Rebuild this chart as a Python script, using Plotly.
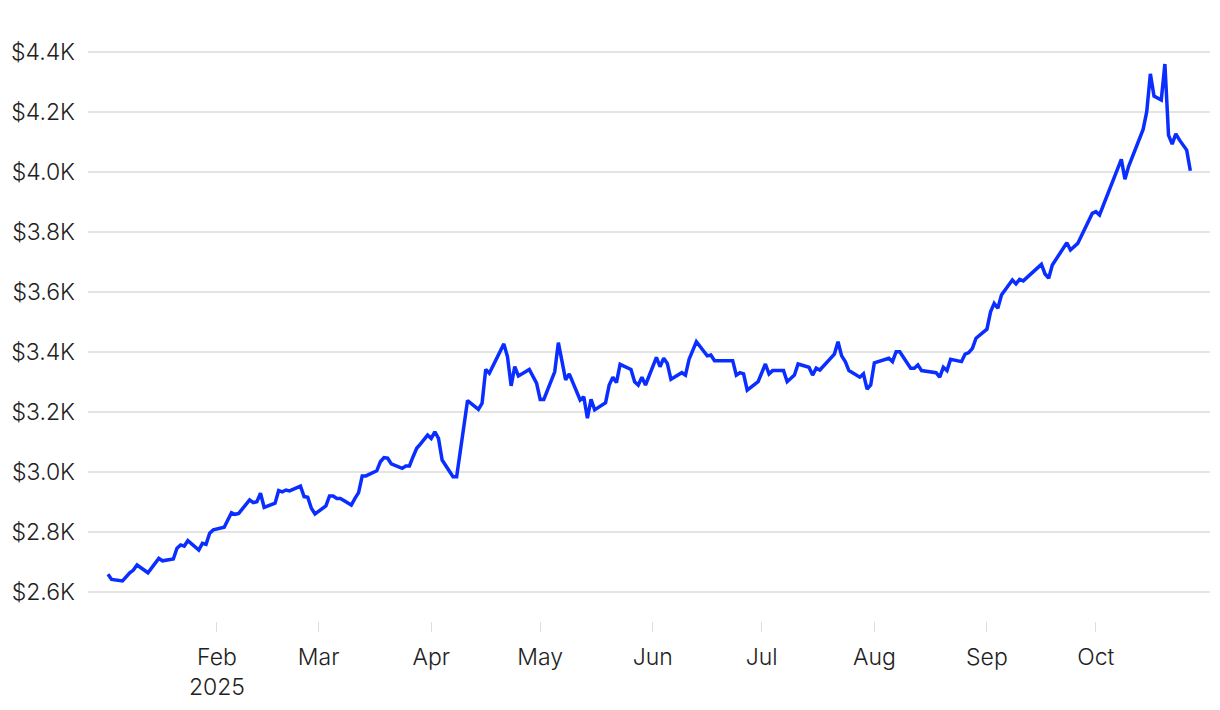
import plotly.graph_objects as go

dates = [
    "2025-01-02", "2025-01-03", "2025-01-06", "2025-01-08", "2025-01-09", "2025-01-10",
    "2025-01-13", "2025-01-16", "2025-01-17", "2025-01-20", "2025-01-21", "2025-01-22",
    "2025-01-23", "2025-01-24", "2025-01-27", "2025-01-28", "2025-01-29", "2025-01-30",
    "2025-01-31", "2025-02-03", "2025-02-05", "2025-02-06", "2025-02-07", "2025-02-10",
    "2025-02-11", "2025-02-12", "2025-02-13", "2025-02-14", "2025-02-17", "2025-02-18",
    "2025-02-19", "2025-02-20", "2025-02-21", "2025-02-24", "2025-02-25", "2025-02-26",
    "2025-02-27", "2025-02-28", "2025-03-03", "2025-03-04", "2025-03-05", "2025-03-06",
    "2025-03-07", "2025-03-10", "2025-03-11", "2025-03-12", "2025-03-13", "2025-03-14",
    "2025-03-17", "2025-03-18", "2025-03-19", "2025-03-20", "2025-03-21", "2025-03-24",
    "2025-03-25", "2025-03-26", "2025-03-27", "2025-03-28", "2025-03-29", "2025-03-31",
    "2025-04-01", "2025-04-02", "2025-04-03", "2025-04-04", "2025-04-07", "2025-04-08",
    "2025-04-11", "2025-04-14", "2025-04-15", "2025-04-16", "2025-04-17", "2025-04-21",
    "2025-04-22", "2025-04-23", "2025-04-24", "2025-04-25", "2025-04-28", "2025-04-30",
    "2025-05-01", "2025-05-02", "2025-05-05", "2025-05-06", "2025-05-08", "2025-05-09",
    "2025-05-12", "2025-05-13", "2025-05-14", "2025-05-15", "2025-05-16", "2025-05-19",
    "2025-05-20", "2025-05-21", "2025-05-22", "2025-05-23", "2025-05-26", "2025-05-27",
    "2025-05-28", "2025-05-29", "2025-05-30", "2025-06-02", "2025-06-03", "2025-06-04",
    "2025-06-05", "2025-06-06", "2025-06-09", "2025-06-10", "2025-06-11", "2025-06-13",
    "2025-06-16", "2025-06-17", "2025-06-18", "2025-06-23", "2025-06-24", "2025-06-25",
    "2025-06-26", "2025-06-27", "2025-06-30", "2025-07-02", "2025-07-03", "2025-07-04",
    "2025-07-07", "2025-07-08", "2025-07-10", "2025-07-11", "2025-07-14", "2025-07-15",
    "2025-07-16", "2025-07-17", "2025-07-21", "2025-07-22", "2025-07-23", "2025-07-24",
    "2025-07-25", "2025-07-28", "2025-07-29", "2025-07-30", "2025-07-31", "2025-08-01",
    "2025-08-05", "2025-08-06", "2025-08-07", "2025-08-08", "2025-08-11", "2025-08-12",
    "2025-08-13", "2025-08-14", "2025-08-18", "2025-08-19", "2025-08-20", "2025-08-21",
    "2025-08-22", "2025-08-25", "2025-08-26", "2025-08-27", "2025-08-28", "2025-08-29",
    "2025-09-01", "2025-09-02", "2025-09-03", "2025-09-04", "2025-09-05", "2025-09-08",
    "2025-09-09", "2025-09-10", "2025-09-11", "2025-09-16", "2025-09-17", "2025-09-18",
    "2025-09-19", "2025-09-23", "2025-09-24", "2025-09-26", "2025-09-30", "2025-10-01",
    "2025-10-02", "2025-10-06", "2025-10-08", "2025-10-09", "2025-10-10", "2025-10-14",
    "2025-10-15", "2025-10-16", "2025-10-17", "2025-10-19", "2025-10-20", "2025-10-21",
    "2025-10-22", "2025-10-23", "2025-10-24", "2025-10-26", "2025-10-27",
]

prices = [
    2659, 2642, 2637, 2664, 2673, 2690,
    2664, 2712, 2704, 2710, 2746, 2757,
    2753, 2771, 2740, 2762, 2759, 2796,
    2807, 2816, 2864, 2859, 2862, 2907,
    2898, 2901, 2929, 2882, 2896, 2938,
    2934, 2940, 2937, 2953, 2918, 2916,
    2879, 2860, 2887, 2920, 2920, 2912,
    2912, 2890, 2912, 2931, 2987, 2987,
    3004, 3034, 3048, 3046, 3027, 3012,
    3020, 3020, 3051, 3079, 3093, 3123,
    3112, 3134, 3112, 3040, 2984, 2984,
    3238, 3209, 3229, 3342, 3329, 3427,
    3384, 3287, 3351, 3320, 3342, 3296,
    3242, 3242, 3334, 3431, 3307, 3327,
    3240, 3251, 3179, 3242, 3207, 3231,
    3290, 3316, 3298, 3359, 3342, 3301,
    3290, 3316, 3290, 3382, 3351, 3379,
    3362, 3309, 3331, 3323, 3376, 3434,
    3387, 3390, 3371, 3371, 3323, 3331,
    3327, 3273, 3301, 3360, 3327, 3338,
    3338, 3301, 3323, 3360, 3349, 3323,
    3346, 3340, 3393, 3434, 3387, 3368,
    3338, 3316, 3327, 3276, 3290, 3364,
    3379, 3368, 3401, 3401, 3346, 3346,
    3357, 3338, 3331, 3316, 3349, 3338,
    3376, 3368, 3393, 3398, 3412, 3446,
    3476, 3534, 3562, 3546, 3590, 3640,
    3627, 3642, 3637, 3692, 3660, 3646,
    3690, 3764, 3740, 3762, 3862, 3868,
    3857, 3984, 4042, 3976, 4018, 4142,
    4201, 4327, 4253, 4240, 4360, 4123,
    4093, 4127, 4107, 4073, 4004,
]

y_tick_vals = [2600, 2800, 3000, 3200, 3400, 3600, 3800, 4000, 4200, 4400]
y_tick_text = ["$2.6K", "$2.8K", "$3.0K", "$3.2K", "$3.4K", "$3.6K", "$3.8K", "$4.0K", "$4.2K", "$4.4K"]

x_tick_vals = ["2025-02-01", "2025-03-01", "2025-04-01", "2025-05-01", "2025-06-01",
               "2025-07-01", "2025-08-01", "2025-09-01", "2025-10-01"]
x_tick_text = ["Feb<br>2025", "Mar", "Apr", "May", "Jun", "Jul", "Aug", "Sep", "Oct"]

tick_font = dict(family="Inter, Liberation Sans, sans-serif", size=23, color="#222222", weight=300)

fig = go.Figure(
    go.Scatter(
        x=dates,
        y=prices,
        mode="lines",
        line=dict(color="#0A2EFF", width=3.5),
        hoverinfo="x+y",
    )
)

fig.update_layout(
    width=1212,
    height=702,
    margin=dict(l=80, r=10, t=31, b=89, autoexpand=False),
    paper_bgcolor="white",
    plot_bgcolor="white",
    showlegend=False,
    font=tick_font,
)

fig.update_xaxes(
    type="date",
    range=["2024-12-27 12:00", "2025-11-01 10:00"],
    tickmode="array",
    tickvals=x_tick_vals,
    ticktext=x_tick_text,
    showgrid=False,
    zeroline=False,
    showline=False,
    ticks="outside",
    ticklen=10,
    tickwidth=1,
    tickcolor="#dddddd",
    ticklabelstandoff=5,
    automargin=False,
    tickfont=tick_font,
)

fig.update_yaxes(
    range=[2503.3, 4443.3],
    tickmode="array",
    tickvals=y_tick_vals,
    ticktext=y_tick_text,
    showgrid=True,
    gridcolor="#e4e4e4",
    gridwidth=1.5,
    zeroline=False,
    showline=False,
    ticks="",
    ticklabelstandoff=12,
    automargin=False,
    tickfont=tick_font,
)

fig.write_html("out.html")
